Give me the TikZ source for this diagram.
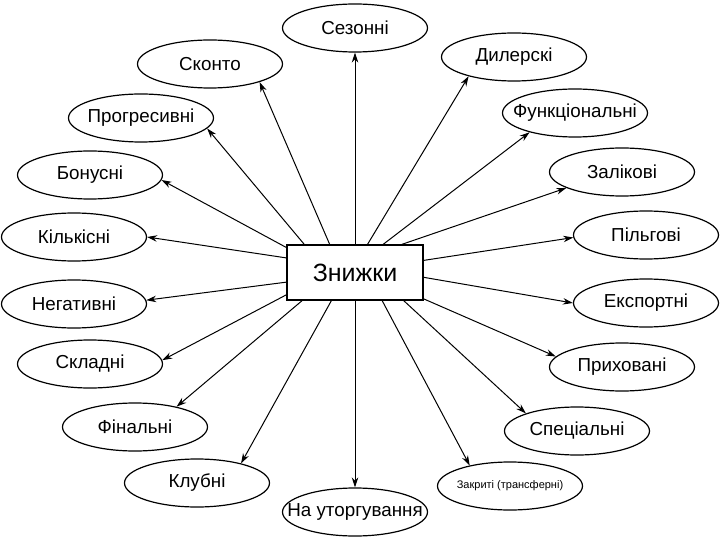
\documentclass[tikz,border=0pt]{standalone}
\usepackage{fontspec}
\setmainfont{Liberation Sans}
\usetikzlibrary{shapes.geometric,arrows.meta}
\newcommand{\zt}[1]{\makebox[0pt]{#1}}
\begin{document}
\begin{tikzpicture}[x=1pt,y=-1pt,
 oval/.style={ellipse,draw,line width=1.2pt,minimum width=145pt,minimum height=48pt,inner sep=0pt,font=\fontsize{18.8}{21}\selectfont},
 hub/.style={rectangle,draw,line width=1.2pt,minimum width=136pt,minimum height=55pt,inner sep=0pt,font=\fontsize{25}{29}\selectfont},
 link/.style={line width=1pt,-{Stealth[length=10pt,width=6.5pt]}}]
\useasboundingbox (0,0) rectangle (720,540);
\node[hub] (z) at (355,272.5) {Знижки};
\node[oval] (sez) at (355,28) {\zt{Сезонні}};
\node[oval] (sko) at (210,64) {\zt{Сконто}};
\node[oval] (pro) at (141,118) {\zt{Прогресивні}};
\node[oval] (bon) at (90,175) {\zt{Бонусні}};
\node[oval] (kil) at (74,237) {\zt{Кількісні}};
\node[oval] (neg) at (74,304) {\zt{Негативні}};
\node[oval] (skl) at (90,364) {\zt{Складні}};
\node[oval] (fin) at (135,427) {\zt{Фінальні}};
\node[oval] (klu) at (197,483) {\zt{Клубні}};
\node[oval] (nau) at (355,512) {\zt{На уторгування}};
\node[oval,font=\fontsize{11}{13}\selectfont] (zak) at (510,486) {\zt{Закриті (трансферні)}};
\node[oval] (spe) at (577,431) {\zt{Спеціальні}};
\node[oval] (pry) at (622,367) {\zt{Приховані}};
\node[oval] (eks) at (646,303) {\zt{Експортні}};
\node[oval] (pil) at (646,235) {\zt{Пільгові}};
\node[oval] (zal) at (622,172) {\zt{Залікові}};
\node[oval] (fun) at (575,113) {\zt{Функціональні}};
\node[oval] (dyl) at (514,57) {\zt{Дилерскі}};
\draw[link] (z.90) -- (sez.270);
\draw[link] (z.132.3) -- (sko.340.3);
\draw[link] (z.151.2) -- (pro.351.5);
\draw[link] (z.160.2) -- (bon.356);
\draw[link] (z.168) -- (kil.0);
\draw[link] (z.188) -- (neg.3);
\draw[link] (z.198.3) -- (skl.3);
\draw[link] (z.208.8) -- (fin.26);
\draw[link] (z.230.1) -- (klu.24.5);
\draw[link] (z.270) -- (nau.90);
\draw[link] (z.314.5) -- (zak.153.4);
\draw[link] (z.330.2) -- (spe.161.6);
\draw[link] (z.339.4) -- (pry.171.8);
\draw[link] (z.356.2) -- (eks.180);
\draw[link] (z.10.4) -- (pil.182);
\draw[link] (z.31.4) -- (zal.196.2);
\draw[link] (z.45.5) -- (fun.203);
\draw[link] (z.66.4) -- (dyl.203);
\end{tikzpicture}
\end{document}
